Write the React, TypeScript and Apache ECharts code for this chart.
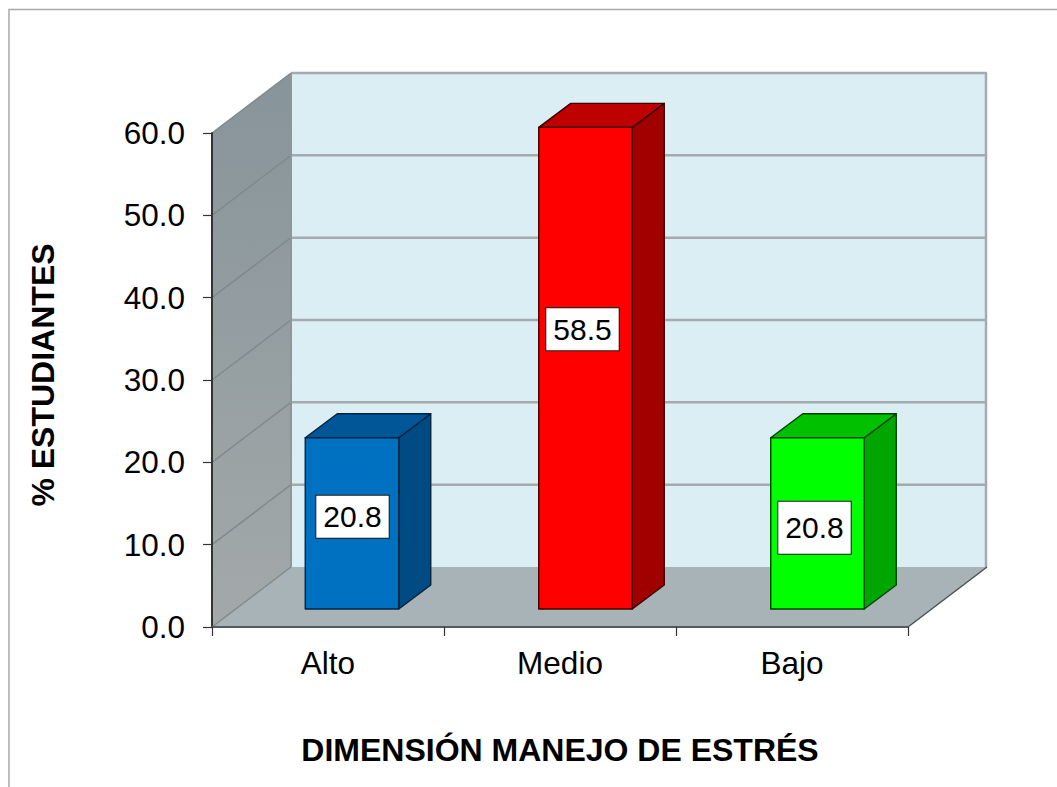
import React, { useEffect, useRef } from "react";
import * as echarts from "echarts";

const categories = ["Alto", "Medio", "Bajo"];
const values = [20.8, 58.5, 20.8];
const valueLabels = ["20.8", "58.5", "20.8"];
const yTicks = [0, 10, 20, 30, 40, 50, 60];
const frontColors = ["#0070c0", "#ff0000", "#00ff00"];
const topColors = ["#005696", "#bf0000", "#00c000"];
const sideColors = ["#004b84", "#a00000", "#00a600"];
const edgeColors = ["#00243f", "#3a0000", "#004000"];
const barNudgeX = [0, 1.5, 1.5];
const labelShiftX = [0.5, -3, -3];
const labelShiftY = [-6.5, -39, 4.5];
const labelPadY = [6, 6, 11];

const FONT = '"Liberation Sans", Arial, sans-serif';
const WALL_DX = 79;
const WALL_DY = -60;
const BAR_SHIFT_X = 24;
const BAR_SHIFT_Y = -18;
const BAR_DX = 32;
const BAR_DY = -24;

function renderScene(params: any, api: any) {
  const cs = params.coordSys;
  const left = cs.x;
  const right = cs.x + cs.width;
  const y0 = api.coord([0, 0])[1];
  const yTop = api.coord([0, 60])[1];
  const poly = (points: number[][], style: any) => ({ type: "polygon", shape: { points }, style });
  const line = (x1: number, y1: number, x2: number, y2: number, stroke: string, lineWidth: number) => ({
    type: "line",
    shape: { x1, y1, x2, y2 },
    style: { stroke, lineWidth },
  });
  const children: any[] = [
    poly(
      [
        [left + WALL_DX, yTop + WALL_DY],
        [right + WALL_DX, yTop + WALL_DY],
        [right + WALL_DX, y0 + WALL_DY],
        [left + WALL_DX, y0 + WALL_DY],
      ],
      { fill: "#dbeef4" }
    ),
    poly(
      [
        [left, yTop],
        [left + WALL_DX, yTop + WALL_DY],
        [left + WALL_DX, y0 + WALL_DY],
        [left, y0],
      ],
      {
        fill: new echarts.graphic.LinearGradient(0, 0, 0, 1, [
          { offset: 0, color: "#87949a" },
          { offset: 1, color: "#a3a9a9" },
        ]),
      }
    ),
    poly(
      [
        [left, y0],
        [right, y0],
        [right + WALL_DX, y0 + WALL_DY],
        [left + WALL_DX, y0 + WALL_DY],
      ],
      { fill: "#a7b3b7" }
    ),
  ];
  yTicks.forEach((t) => {
    const y = api.coord([0, t])[1];
    if (t > 0) {
      children.push(line(left + WALL_DX, y + WALL_DY, right + WALL_DX, y + WALL_DY, "#a3abaf", 2.5));
    }
    children.push(line(left, y, left + WALL_DX, y + WALL_DY, "#7f898c", 1.4));
  });
  children.push(line(left + WALL_DX, yTop + WALL_DY, left + WALL_DX, y0 + WALL_DY, "#8b979b", 2));
  children.push(line(right + WALL_DX - 1, yTop + WALL_DY, right + WALL_DX - 1, y0 + WALL_DY, "#a3abaf", 2.5));
  children.push(line(right, y0, right + WALL_DX, y0 + WALL_DY, "#4a5052", 1.4));
  return { type: "group", children };
}

function renderBar(params: any, api: any) {
  const i = params.dataIndex;
  const center = api.coord([api.value(0), 0]);
  const topPt = api.coord([api.value(0), api.value(1)]);
  const w = api.size([1, 0])[0] * 0.403;
  const x0 = center[0] - w / 2 + BAR_SHIFT_X + barNudgeX[i];
  const x1 = x0 + w;
  const yb = center[1] + BAR_SHIFT_Y;
  const yt = topPt[1] + BAR_SHIFT_Y;
  const edge = { stroke: edgeColors[i], lineWidth: 1.4, lineJoin: "round" };
  return {
    type: "group",
    children: [
      {
        type: "polygon",
        shape: { points: [[x1, yt], [x1 + BAR_DX, yt + BAR_DY], [x1 + BAR_DX, yb + BAR_DY], [x1, yb]] },
        style: { fill: sideColors[i], ...edge },
      },
      {
        type: "polygon",
        shape: { points: [[x0, yt], [x0 + BAR_DX, yt + BAR_DY], [x1 + BAR_DX, yt + BAR_DY], [x1, yt]] },
        style: { fill: topColors[i], ...edge },
      },
      {
        type: "rect",
        shape: { x: x0, y: yt, width: w, height: yb - yt },
        style: { fill: frontColors[i], ...edge },
      },
      {
        type: "text",
        style: {
          text: valueLabels[i],
          x: (x0 + x1) / 2 + labelShiftX[i],
          y: (yt + yb) / 2 + labelShiftY[i],
          align: "center",
          verticalAlign: "middle",
          fontFamily: FONT,
          fontSize: 30,
          fill: "#000000",
          backgroundColor: "#ffffff",
          borderColor: "#1a1a1a",
          borderWidth: 1,
          padding: [labelPadY[i], 7, labelPadY[i], 7],
        },
      },
    ],
  };
}

export default function App() {
  const ref = useRef<HTMLDivElement>(null);
  useEffect(() => {
    document.body.style.margin = "0";
    const chart = echarts.init(ref.current!, null, { renderer: "svg" });
    chart.setOption({
      animation: false,
      backgroundColor: "#ffffff",
      textStyle: { fontFamily: FONT },
      grid: { left: 212, top: 133, width: 696, height: 494, containLabel: false },
      xAxis: {
        type: "category",
        data: categories,
        z: 5,
        name: "DIMENSIÓN MANEJO DE ESTRÉS",
        nameLocation: "middle",
        nameGap: 107,
        nameTextStyle: { fontFamily: FONT, fontSize: 32, fontWeight: "bold", color: "#000000" },
        axisLine: { lineStyle: { color: "#555a5c", width: 2 } },
        axisTick: { show: true, alignWithLabel: false, length: 9, lineStyle: { color: "#333333", width: 1.2 } },
        axisLabel: { fontFamily: FONT, fontSize: 31.5, color: "#000000", margin: 20 },
        splitLine: { show: false },
      },
      yAxis: {
        type: "value",
        min: 0,
        max: 60,
        interval: 10,
        z: 5,
        name: "% ESTUDIANTES",
        nameLocation: "middle",
        nameRotate: 90,
        nameGap: 153,
        nameTextStyle: { fontFamily: FONT, fontSize: 32, fontWeight: "bold", color: "#000000", padding: [0, 0, 0, 10] },
        axisLine: { show: true, lineStyle: { color: "#333333", width: 2 } },
        axisTick: { show: true, length: 9, lineStyle: { color: "#333333", width: 1.2 } },
        axisLabel: { fontFamily: FONT, fontSize: 31.5, color: "#000000", margin: 27, formatter: (v: number) => v.toFixed(1) },
        splitLine: { show: false },
      },
      graphic: [
        {
          type: "polyline",
          silent: true,
          shape: { points: [[9, 787], [9, 9.5], [1057, 9.5]] },
          style: { stroke: "#a9a9a9", lineWidth: 1.5, fill: "none" },
        },
      ],
      series: [
        { type: "custom", z: 1, silent: true, clip: false, data: [[0, 0]], encode: { x: 0, y: 1 }, renderItem: renderScene },
        {
          type: "custom",
          z: 2,
          silent: true,
          clip: false,
          data: values.map((v, i) => [i, v]),
          encode: { x: 0, y: 1 },
          renderItem: renderBar,
        },
      ],
    });
    return () => chart.dispose();
  }, []);
  return <div ref={ref} style={{ width: 1057, height: 787 }} />;
}
